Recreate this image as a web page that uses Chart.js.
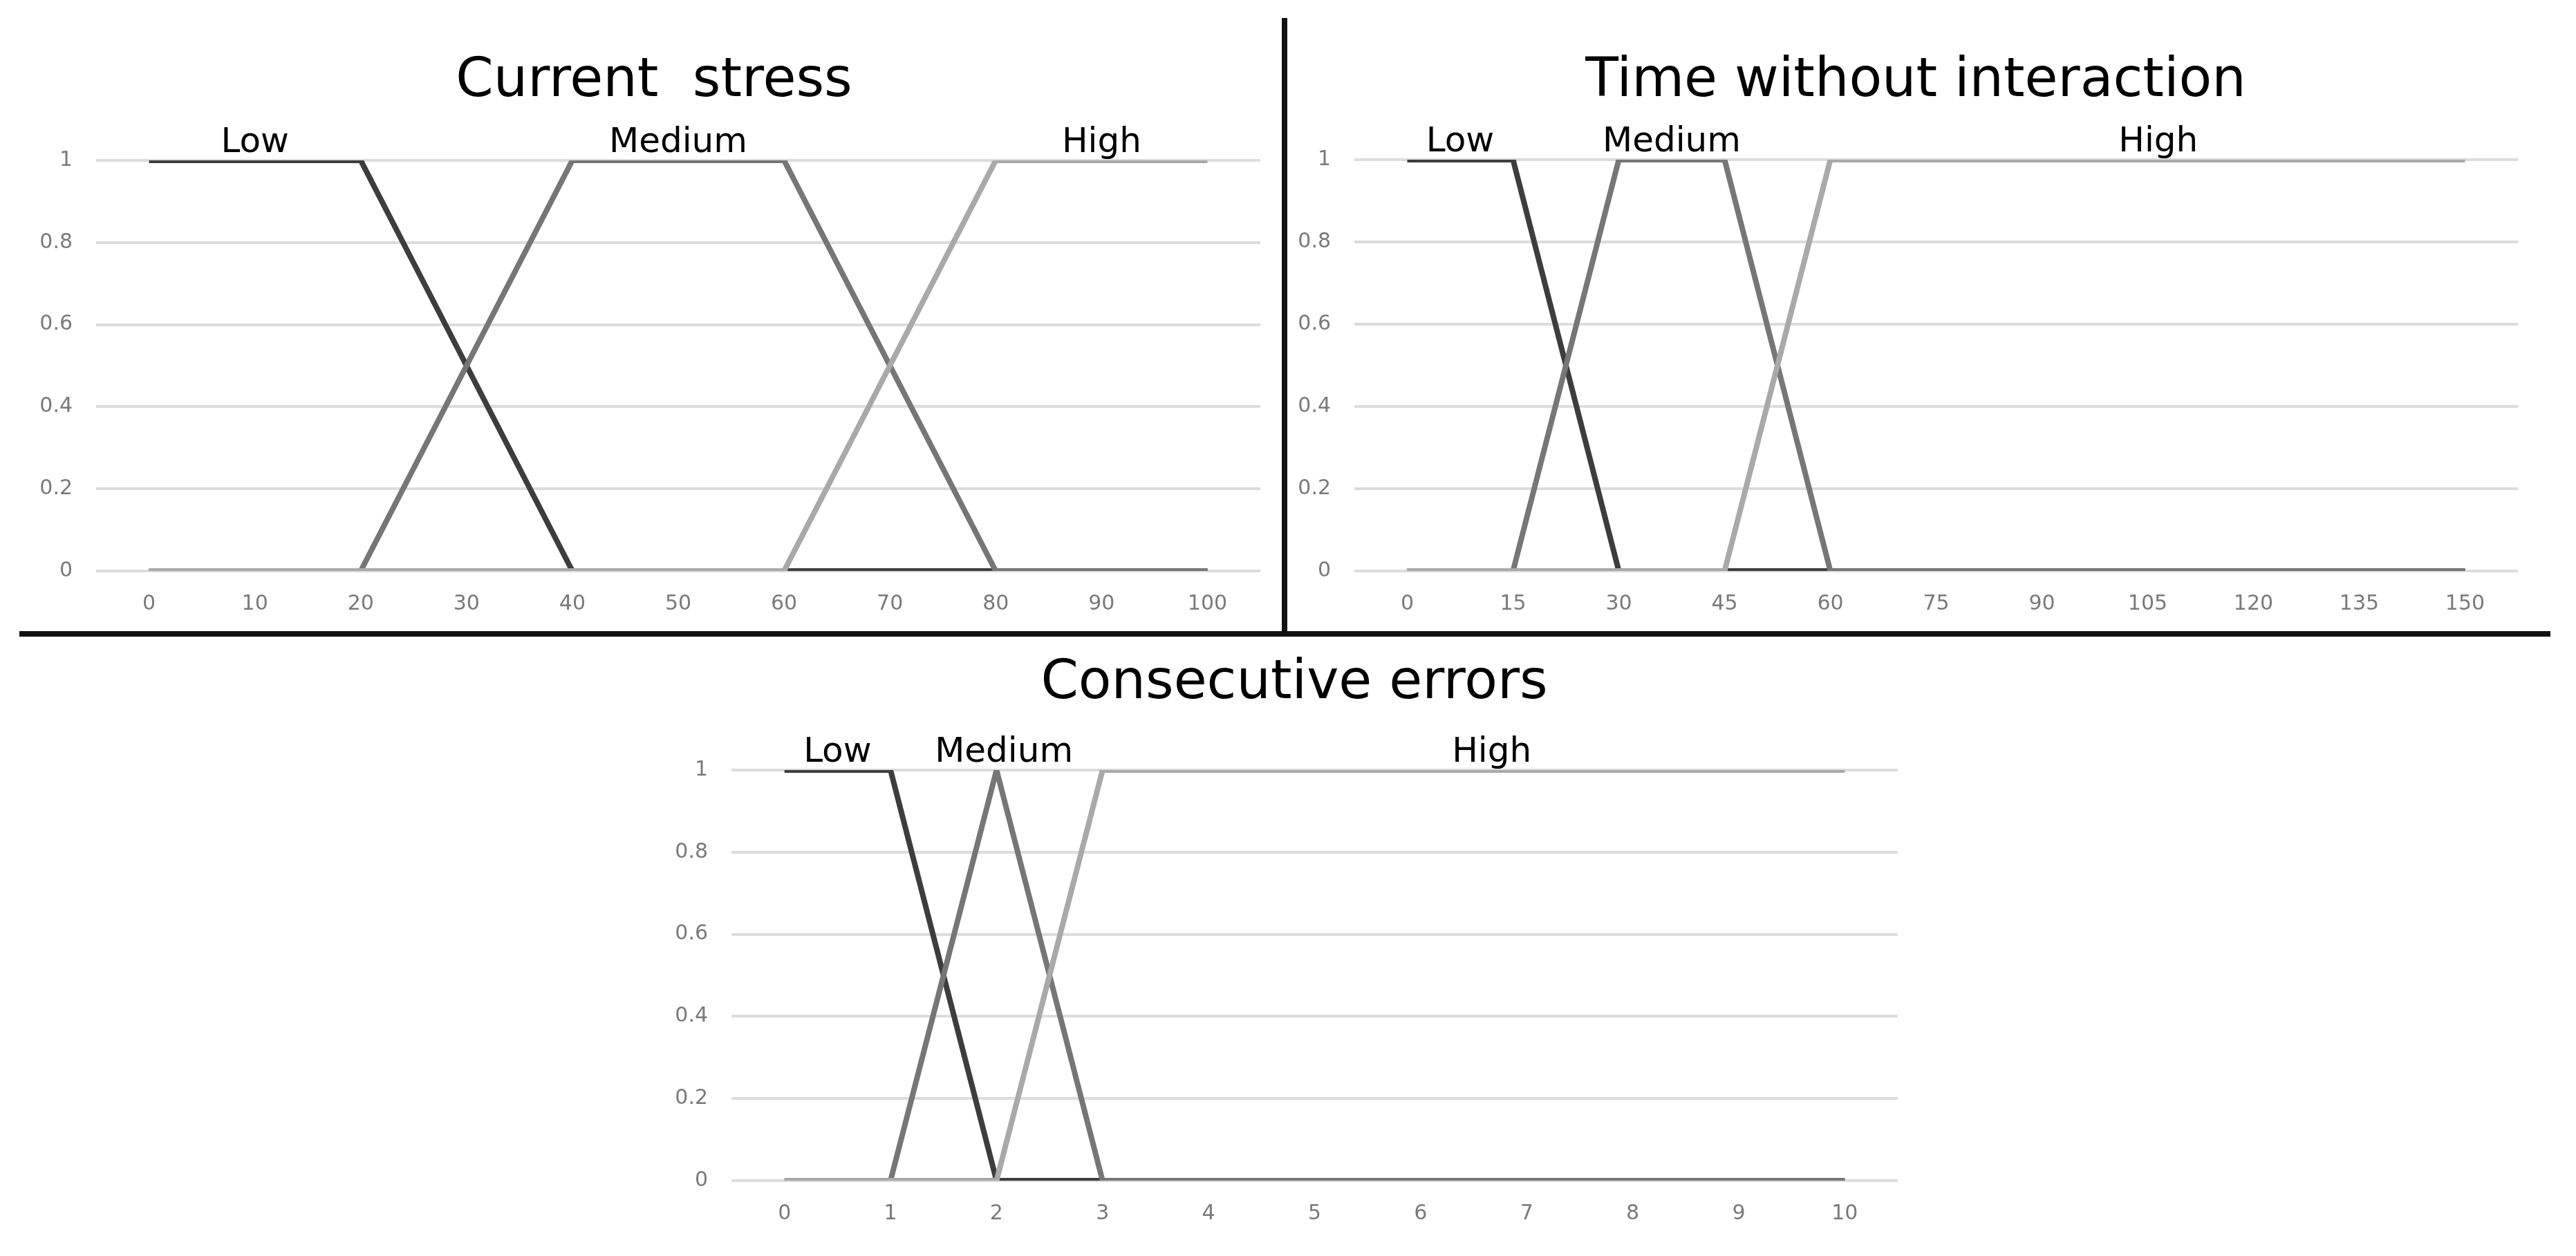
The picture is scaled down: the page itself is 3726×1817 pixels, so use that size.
<!DOCTYPE html>
<html>
<head>
<meta charset="utf-8">
<script src="https://cdn.jsdelivr.net/npm/chart.js@4"></script>
<style>
    body { margin: 0; background: #ffffff; }
    #page { position: relative; width: 3726px; height: 1817px; background: #ffffff; overflow: hidden; }
    canvas { position: absolute; }
    .rule { position: absolute; background: #111111; }
    .title {
        position: absolute;
        width: 2000px;
        text-align: center;
        font-family: 'DejaVu Sans', Verdana, sans-serif;
        font-size: 78px;
        line-height: 94px;
        color: #000000;
        white-space: pre;
    }
</style>
</head>
<body>
<div id="page">
    <canvas id="stressChart" width="1850" height="906" style="left:0px;top:0px"></canvas>
    <canvas id="timeChart" width="1866" height="906" style="left:1860px;top:0px"></canvas>
    <canvas id="errorsChart" width="1900" height="863" style="left:900px;top:925px"></canvas>
    <div class="title" style="left:-54px;top:65px">Current  stress</div>
    <div class="title" style="left:1771px;top:65px">Time without interaction</div>
    <div class="title" style="left:872px;top:936px">Consecutive errors</div>
    <div class="rule" style="left:1854px;top:26px;width:8px;height:890px"></div>
    <div class="rule" style="left:28px;top:913px;width:3661px;height:8px"></div>
</div>
<script>
// Data

const setNames = ['Low', 'Medium', 'High'];

const stressLabels = ['0', '10', '20', '30', '40', '50', '60', '70', '80', '90', '100'];
const stressLow = [1, 1, 1, 0.5, 0, 0, 0, 0, 0, 0, 0];
const stressMedium = [0, 0, 0, 0.5, 1, 1, 1, 0.5, 0, 0, 0];
const stressHigh = [0, 0, 0, 0, 0, 0, 0, 0.5, 1, 1, 1];
const stressNameAt = [1, 5, 9];

const timeLabels = ['0', '15', '30', '45', '60', '75', '90', '105', '120', '135', '150'];
const timeLow = [1, 1, 0, 0, 0, 0, 0, 0, 0, 0, 0];
const timeMedium = [0, 0, 1, 1, 0, 0, 0, 0, 0, 0, 0];
const timeHigh = [0, 0, 0, 0, 1, 1, 1, 1, 1, 1, 1];
const timeNameAt = [0.5, 2.5, 7.1];

const errorsLabels = ['0', '1', '2', '3', '4', '5', '6', '7', '8', '9', '10'];
const errorsLow = [1, 1, 0, 0, 0, 0, 0, 0, 0, 0, 0];
const errorsMedium = [0, 0, 1, 0, 0, 0, 0, 0, 0, 0, 0];
const errorsHigh = [0, 0, 0, 1, 1, 1, 1, 1, 1, 1, 1];
const errorsNameAt = [0.5, 2.07, 6.67];

// Styles

const FONT = "'DejaVu Sans', Verdana, sans-serif";
const lineColors = ['#3d3d3d', '#767676', '#a9a9a9'];

// draws the Low / Medium / High names just above the y = 1 line
const setNamesPlugin = {
    id: 'setNames',
    afterDatasetsDraw(chart, args, opts) {
        const ctx = chart.ctx;
        const x = chart.scales.x;
        const y = chart.scales.y;
        ctx.save();
        ctx.font = '50px ' + FONT;
        ctx.fillStyle = '#000000';
        ctx.textAlign = 'center';
        ctx.textBaseline = 'alphabetic';
        opts.names.forEach((name, i) => {
            ctx.fillText(name, x.getPixelForValue(opts.at[i]), y.getPixelForValue(1) - 12);
        });
        ctx.restore();
    }
};

function makeDataset(label, data, idx) {
    return {
        label: label,
        data: data,
        borderColor: lineColors[idx],
        backgroundColor: lineColors[idx],
        borderWidth: 8,
        pointRadius: 0,
        tension: 0,
        fill: false,
        borderCapStyle: 'butt',
        order: 2 - idx
    };
}

function makeChart(id, labels, low, medium, high, nameAt, box) {
    const ctx = document.getElementById(id).getContext('2d');
    return new Chart(ctx, {
        type: 'line',
        data: {
            labels: labels,
            datasets: [
                makeDataset(setNames[0], low, 0),
                makeDataset(setNames[1], medium, 1),
                makeDataset(setNames[2], high, 2)
            ]
        },
        options: {
            responsive: false,
            animation: false,
            devicePixelRatio: 1,
            layout: {
                padding: { left: box.padLeft, right: box.padRight, top: box.padTop, bottom: 0 }
            },
            plugins: {
                legend: { display: false },
                tooltip: { enabled: false },
                title: { display: false },
                setNames: { names: setNames, at: nameAt }
            },
            scales: {
                x: {
                    type: 'category',
                    offset: true,
                    grid: { display: false, drawTicks: false },
                    border: { display: false },
                    ticks: {
                        color: '#7a7a7a',
                        font: { family: FONT, size: 30 },
                        padding: 30,
                        maxRotation: 0,
                        autoSkip: false
                    },
                    afterFit: (scale) => { scale.height = 80; }
                },
                y: {
                    min: 0,
                    max: 1,
                    grid: { color: '#dcdcdc', lineWidth: 4, drawTicks: false },
                    border: { display: false },
                    ticks: {
                        stepSize: 0.2,
                        color: '#7a7a7a',
                        font: { family: FONT, size: 30 },
                        padding: 34,
                        callback: (v) => String(Math.round(v * 10) / 10)
                    },
                    afterFit: (scale) => { scale.width = box.axisWidth; }
                }
            }
        },
        plugins: [setNamesPlugin]
    });
}

makeChart('stressChart', stressLabels, stressLow, stressMedium, stressHigh, stressNameAt,
    { padLeft: 39, padRight: 27, padTop: 232, axisWidth: 100 });

makeChart('timeChart', timeLabels, timeLow, timeMedium, timeHigh, timeNameAt,
    { padLeft: 4, padRight: 84, padTop: 231, axisWidth: 95 });

makeChart('errorsChart', errorsLabels, errorsLow, errorsMedium, errorsHigh, errorsNameAt,
    { padLeft: 58, padRight: 55, padTop: 189, axisWidth: 100 });
</script>
</body>
</html>
